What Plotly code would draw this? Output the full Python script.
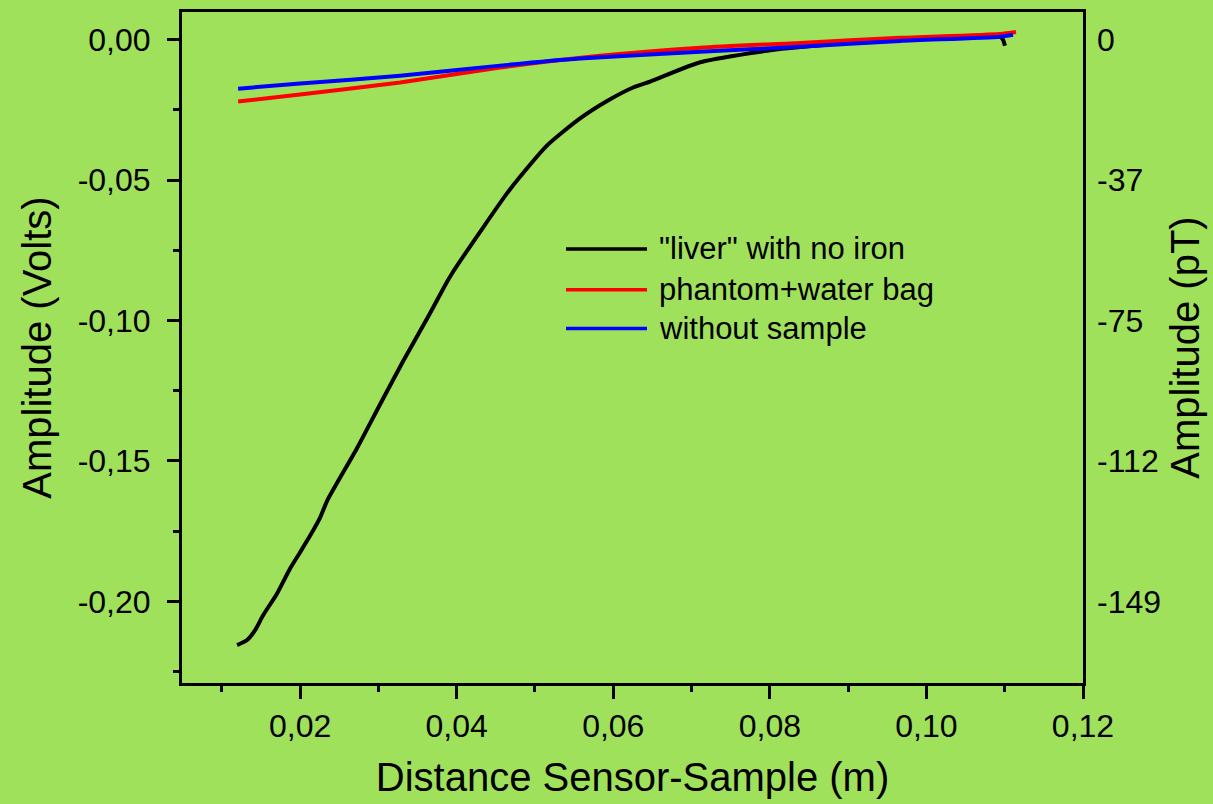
import plotly.graph_objects as go

# Distance sensor-sample (m) and measured amplitude (V)
liver_x = [0.01195, 0.01323, 0.01425, 0.01527, 0.01706, 0.01872, 0.02000, 0.02128,
           0.02255, 0.02345, 0.02728, 0.03022, 0.03315, 0.03622, 0.03877, 0.03954,
           0.04299, 0.04682, 0.05155, 0.05576, 0.05921, 0.06253, 0.06470, 0.07109,
           0.07964, 0.09024, 0.10084, 0.10940, 0.10978, 0.11003]
liver_y = [-0.2156, -0.2138, -0.2103, -0.2050, -0.1972, -0.1883, -0.1825, -0.1766,
           -0.1702, -0.1642, -0.1454, -0.1298, -0.1145, -0.0993, -0.0862, -0.0826,
           -0.0684, -0.0532, -0.0376, -0.0280, -0.0218, -0.0170, -0.0149, -0.0080,
           -0.0039, -0.0011, 0.0007, 0.0011, 0.0000, -0.0021]

phantom_x = [0.01208, 0.02000, 0.03277, 0.04554, 0.05831, 0.07108, 0.08385, 0.09663,
             0.10940, 0.11144]
phantom_y = [-0.0220, -0.0195, -0.0152, -0.0099, -0.0057, -0.0028, -0.0011, 0.0007,
             0.0021, 0.0028]

empty_x = [0.01208, 0.02000, 0.03277, 0.04554, 0.05576, 0.07108, 0.08385, 0.09663,
           0.10940, 0.11106]
empty_y = [-0.0174, -0.0156, -0.0128, -0.0092, -0.0067, -0.0043, -0.0025, -0.0004,
           0.0011, 0.0018]

series_names = ['"liver" with no iron', "phantom+water bag", "without sample"]
series_colors = ["#000000", "#ff0000", "#0000ff"]

volt_ticks = [0.0, -0.05, -0.10, -0.15, -0.20]
volt_labels = ["0,00", "-0,05", "-0,10", "-0,15", "-0,20"]
pt_labels = ["0", "-37", "-75", "-112", "-149"]

BG = "#a0e15c"
FONT = "Liberation Sans, Arial, sans-serif"
TICK_SIZE = 32

fig = go.Figure()
for xs, ys, name, col in zip([liver_x, phantom_x, empty_x],
                             [liver_y, phantom_y, empty_y],
                             series_names, series_colors):
    fig.add_trace(go.Scatter(x=xs, y=ys, mode="lines", name=name,
                             line=dict(color=col, width=4, shape="spline",
                                       smoothing=0.6),
                             showlegend=False))

# invisible trace to activate the right-hand pT axis
fig.add_trace(go.Scatter(x=[0.05], y=[0.0], yaxis="y2", mode="markers",
                         marker=dict(opacity=0), showlegend=False, hoverinfo="skip"))

yrange = [-0.2291, 0.0099]

fig.update_layout(
    width=1213, height=804,
    paper_bgcolor=BG, plot_bgcolor=BG,
    separators=",.",
    margin=dict(l=182, r=130, t=9, b=121),
    font=dict(family=FONT, size=TICK_SIZE, color="#000000"),
    xaxis=dict(
        range=[0.00491, 0.12], dtick=0.02, tick0=0, tickformat=".2f",
        showgrid=False, zeroline=False,
        showline=True, linecolor="#000000", linewidth=3, mirror=True,
        ticks="outside", ticklen=13, tickwidth=2.5, tickcolor="#000000",
        minor=dict(dtick=0.01, tick0=0, ticks="outside", ticklen=6,
                   tickwidth=2.5, tickcolor="#000000", showgrid=False),
        tickfont=dict(size=TICK_SIZE),
        title=dict(text="Distance Sensor-Sample (m)", font=dict(size=40), standoff=20),
    ),
    yaxis=dict(
        range=yrange, tickvals=volt_ticks, ticktext=volt_labels,
        showgrid=False, zeroline=False,
        showline=True, linecolor="#000000", linewidth=3, mirror=True,
        ticks="outside", ticklen=12, tickwidth=2.5, tickcolor="#000000",
        minor=dict(dtick=0.025, tick0=0, ticks="outside", ticklen=6,
                   tickwidth=2.5, tickcolor="#000000", showgrid=False),
        tickfont=dict(size=TICK_SIZE), ticklabelstandoff=10,
        title=dict(text="Amplitude (Volts)", font=dict(size=40), standoff=14),
    ),
    yaxis2=dict(
        overlaying="y", side="right", range=yrange,
        tickvals=volt_ticks, ticktext=pt_labels,
        showgrid=False, zeroline=False, showline=False, ticks="",
        tickfont=dict(size=TICK_SIZE), ticklabelstandoff=13,
        title=dict(text="Amplitude (pT)", font=dict(size=40), standoff=10),
    ),
)

# legend block drawn inside the plot area
leg_rows = [247, 288, 327]
x0p, x1p, xtp = (566 - 182) / 901, (647 - 182) / 901, (657 - 182) / 901
for row, name, col in zip(leg_rows, series_names, series_colors):
    yp = (683 - row) / 674
    fig.add_shape(type="line", xref="paper", yref="paper",
                  x0=x0p, x1=x1p, y0=yp, y1=yp,
                  line=dict(color=col, width=3.5))
    fig.add_annotation(xref="paper", yref="paper", x=xtp, y=yp,
                       text=name, showarrow=False, xanchor="left", yanchor="middle",
                       font=dict(size=31, family=FONT, color="#000000"))

fig.write_html("out.html")
